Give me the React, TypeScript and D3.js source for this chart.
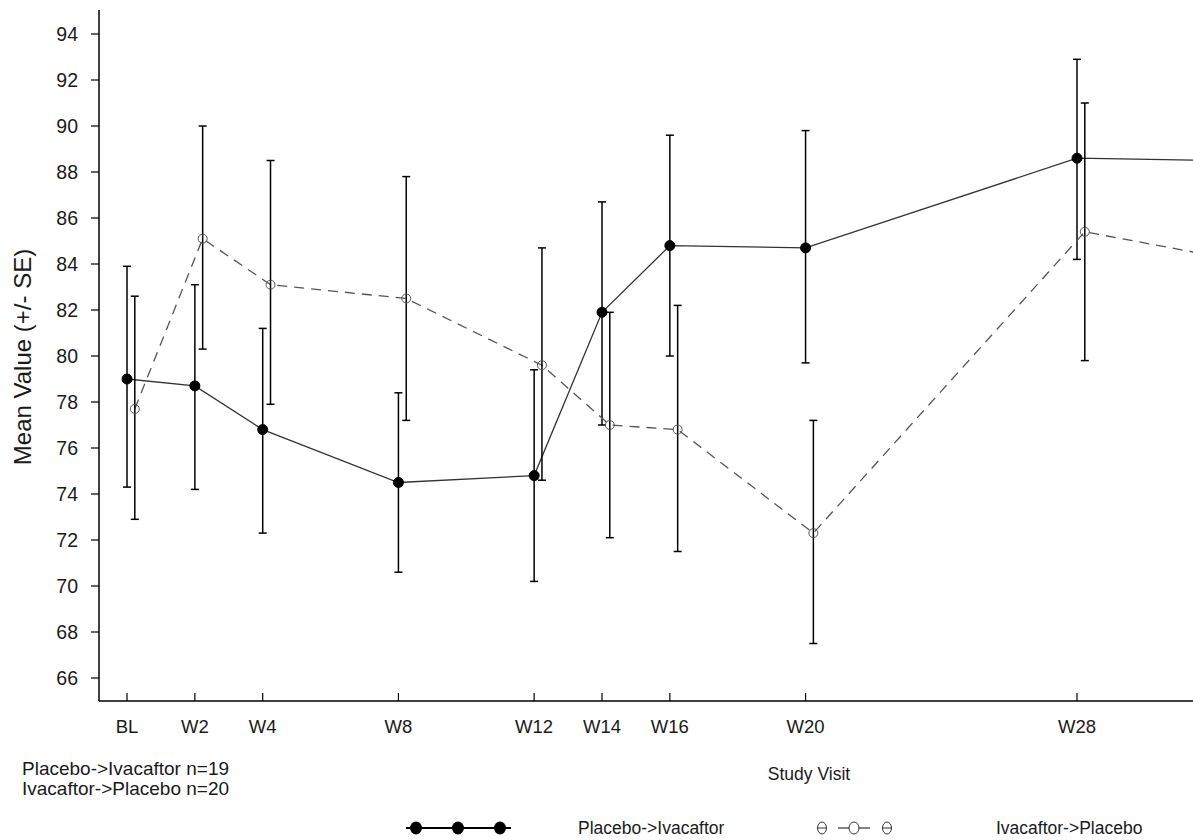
import React, { useEffect, useRef } from 'react';
import * as d3 from 'd3';

const visits = ['BL', 'W2', 'W4', 'W8', 'W12', 'W14', 'W16', 'W20', 'W28', 'W32'];
const weeks = [0, 2, 4, 8, 12, 14, 16, 20, 28, 32];

// Placebo->Ivacaftor (filled)
const pbiMean = [79.0, 78.7, 76.8, 74.5, 74.8, 81.9, 84.8, 84.7, 88.6, 88.5];
const pbiLow = [74.3, 74.2, 72.3, 70.6, 70.2, 77.0, 80.0, 79.7, 84.2, null];
const pbiHigh = [83.9, 83.1, 81.2, 78.4, 79.4, 86.7, 89.6, 89.8, 92.9, null];

// Ivacaftor->Placebo (open)
const ivpMean = [77.7, 85.1, 83.1, 82.5, 79.6, 77.0, 76.8, 72.3, 85.4, 84.3];
const ivpLow = [72.9, 80.3, 77.9, 77.2, 74.6, 72.1, 71.5, 67.5, 79.8, null];
const ivpHigh = [82.6, 90.0, 88.5, 87.8, 84.7, 81.9, 82.2, 77.2, 91.0, null];

const yTicks = [66, 68, 70, 72, 74, 76, 78, 80, 82, 84, 86, 88, 90, 92, 94];

const App = () => {
  const ref = useRef<SVGSVGElement | null>(null);

  useEffect(() => {
    const svg = d3.select(ref.current);
    svg.selectAll('*').remove();

    const width = 1193;
    const height = 840;
    const left = 99;
    const bottom = 701;
    const top = 10;
    const font = 'Liberation Sans, Arial, sans-serif';
    const ink = '#1a1a1a';

    const x = d3.scaleLinear().domain([0, 28]).range([127, 1077]);
    const y = d3.scaleLinear().domain([66, 94]).range([678, 34]);
    const openShift = 0.23; // weeks offset of the second group

    svg.attr('width', width).attr('height', height);

    svg
      .append('defs')
      .append('clipPath')
      .attr('id', 'plotclip')
      .append('rect')
      .attr('x', left)
      .attr('y', top)
      .attr('width', width - left)
      .attr('height', bottom - top);

    // axes
    svg.append('line').attr('x1', left).attr('x2', left).attr('y1', top).attr('y2', bottom)
      .attr('stroke', '#000').attr('stroke-width', 1.5);
    svg.append('line').attr('x1', left).attr('x2', width).attr('y1', bottom).attr('y2', bottom)
      .attr('stroke', '#000').attr('stroke-width', 1.5);

    yTicks.forEach((t) => {
      svg.append('line').attr('x1', left - 8).attr('x2', left).attr('y1', y(t)).attr('y2', y(t))
        .attr('stroke', '#000').attr('stroke-width', 1.2);
      svg.append('text').attr('x', 78).attr('y', y(t)).attr('dy', '0.36em')
        .attr('text-anchor', 'end').style('font-family', font).style('font-size', '19.5px')
        .attr('fill', ink).text(t);
    });

    visits.forEach((v, i) => {
      const xx = x(weeks[i]);
      if (xx > width) return;
      svg.append('line').attr('x1', xx).attr('x2', xx).attr('y1', bottom - 8).attr('y2', bottom)
        .attr('stroke', '#000').attr('stroke-width', 1.2);
      svg.append('text').attr('x', xx).attr('y', 733).attr('text-anchor', 'middle')
        .style('font-family', font).style('font-size', '18.5px').attr('fill', ink).text(v);
    });

    svg.append('text')
      .attr('transform', `translate(31,357) rotate(-90)`)
      .attr('text-anchor', 'middle').style('font-family', font).style('font-size', '24px')
      .attr('fill', ink).text('Mean Value (+/- SE)');

    svg.append('text').attr('x', 809).attr('y', 780).attr('text-anchor', 'middle')
      .style('font-family', font).style('font-size', '17.5px').attr('fill', ink).text('Study Visit');

    svg.append('text').attr('x', 22).attr('y', 775).style('font-family', font).style('font-size', '19px')
      .attr('fill', ink).text('Placebo->Ivacaftor n=19');
    svg.append('text').attr('x', 22).attr('y', 795).style('font-family', font).style('font-size', '19px')
      .attr('fill', ink).text('Ivacaftor->Placebo n=20');

    const plot = svg.append('g').attr('clip-path', 'url(#plotclip)');

    const drawSeries = (mean, low, high, shift, filled) => {
      const line = d3.line<number>()
        .x((d, i) => x(weeks[i] + shift))
        .y((d) => y(d));
      plot.append('path').attr('d', line(mean)).attr('fill', 'none')
        .attr('stroke', filled ? '#333' : '#555').attr('stroke-width', 1.3)
        .attr('stroke-dasharray', filled ? null : '10,7');

      mean.forEach((m, i) => {
        if (low[i] == null) return;
        const cx = x(weeks[i] + shift);
        plot.append('line').attr('x1', cx).attr('x2', cx).attr('y1', y(low[i])).attr('y2', y(high[i]))
          .attr('stroke', '#000').attr('stroke-width', 1.5);
        [low[i], high[i]].forEach((v) => {
          plot.append('line').attr('x1', cx - 4).attr('x2', cx + 4).attr('y1', y(v)).attr('y2', y(v))
            .attr('stroke', '#000').attr('stroke-width', 1.5);
        });
        plot.append('circle').attr('cx', cx).attr('cy', y(m)).attr('r', filled ? 5 : 4.5)
          .attr('fill', filled ? '#000' : '#fff').attr('fill-opacity', filled ? 1 : 0)
          .attr('stroke', filled ? '#000' : '#555').attr('stroke-width', 1);
      });
    };

    drawSeries(pbiMean, pbiLow, pbiHigh, 0, true);
    drawSeries(ivpMean, ivpLow, ivpHigh, openShift, false);

    // legend
    const ly = 828;
    svg.append('line').attr('x1', 406).attr('x2', 511).attr('y1', ly).attr('y2', ly)
      .attr('stroke', '#000').attr('stroke-width', 2);
    [416, 458, 500].forEach((cx) => {
      svg.append('ellipse').attr('cx', cx).attr('cy', ly).attr('rx', 6).attr('ry', 6.5).attr('fill', '#000');
    });
    svg.append('text').attr('x', 578).attr('y', ly + 6).style('font-family', font).style('font-size', '17.5px')
      .attr('fill', ink).text('Placebo->Ivacaftor');

    [822, 887].forEach((cx) => {
      svg.append('ellipse').attr('cx', cx).attr('cy', ly).attr('rx', 4.5).attr('ry', 6)
        .attr('fill', 'none').attr('stroke', '#333').attr('stroke-width', 1);
      svg.append('line').attr('x1', cx - 5).attr('x2', cx + 5).attr('y1', ly).attr('y2', ly)
        .attr('stroke', '#333').attr('stroke-width', 1);
    });
    svg.append('line').attr('x1', 838).attr('x2', 870).attr('y1', ly).attr('y2', ly)
      .attr('stroke', '#333').attr('stroke-width', 1.2);
    svg.append('ellipse').attr('cx', 854).attr('cy', ly).attr('rx', 5).attr('ry', 6)
      .attr('fill', '#fff').attr('stroke', '#333').attr('stroke-width', 1);
    svg.append('text').attr('x', 996).attr('y', ly + 6).style('font-family', font).style('font-size', '17.5px')
      .attr('fill', ink).text('Ivacaftor->Placebo');
  }, []);

  return (
    <svg ref={ref} style={{ position: 'absolute', left: 0, top: 0, background: '#fff' }} />
  );
};

export default App;
